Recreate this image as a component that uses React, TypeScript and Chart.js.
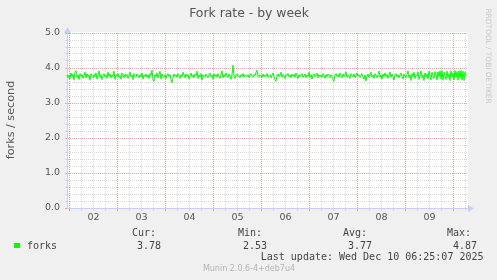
import React, { useEffect, useRef } from "react";
import { Chart, registerables } from "chart.js";

Chart.register(...registerables);

// hours measured from Dec 02 00:00
const dayLabels = ["02", "03", "04", "05", "06", "07", "08", "09"];
const startHour = -1.25;
const stepHours = 0.5;
const forks = [
  3.81, 3.72, 3.80, 3.68, 3.86, 3.75, 3.83, 3.65, 3.88, 3.92,
  3.73, 3.80, 3.67, 3.84, 3.76, 3.81, 3.70, 3.78, 3.89, 3.72,
  3.83, 3.75, 3.80, 3.65, 3.84, 3.76, 3.72, 3.81, 3.75, 3.86,
  3.68, 3.80, 3.92, 3.73, 3.81, 3.67, 3.78, 3.84, 3.75, 3.80,
  3.70, 3.88, 3.76, 3.83, 3.72, 3.80, 3.75, 3.91, 3.67, 3.81,
  3.76, 3.84, 3.73, 3.78, 3.68, 3.86, 3.80, 3.72, 3.83, 3.76,
  3.81, 3.70, 3.78, 3.88, 3.75, 3.80, 3.67, 3.84, 3.76, 3.73,
  3.83, 3.78, 3.72, 3.81, 3.75, 3.86, 3.68, 3.80, 3.76, 3.83,
  3.73, 3.80, 3.70, 3.84, 3.78, 3.94, 3.66, 3.62, 3.81, 3.75,
  3.86, 3.72, 3.80, 3.91, 3.68, 3.83, 3.76, 3.73, 3.81, 3.70,
  3.78, 3.84, 3.75, 3.81, 3.67, 3.58, 3.72, 3.83, 3.76, 3.80,
  3.73, 3.84, 3.78, 3.70, 3.81, 3.75, 3.88, 3.80, 3.72, 3.83,
  3.76, 3.81, 3.68, 3.78, 3.86, 3.75, 3.80, 3.72, 3.83, 3.78,
  3.91, 3.70, 3.80, 3.75, 3.84, 3.65, 3.81, 3.76, 3.73, 3.83,
  3.78, 3.72, 3.81, 3.86, 3.75, 3.80, 3.68, 3.83, 3.76, 3.81,
  3.73, 3.84, 3.78, 3.70, 3.80, 3.92, 3.72, 3.81, 3.75, 3.86,
  3.78, 3.72, 3.83, 3.76, 3.68, 3.81, 4.08, 3.75, 3.70, 3.80,
  3.83, 3.75, 3.78, 3.72, 3.81, 3.76, 3.84, 3.73, 3.80, 3.78,
  3.75, 3.81, 3.72, 3.80, 3.84, 3.76, 3.73, 3.81, 3.78, 3.88,
  3.94, 3.76, 3.73, 3.81, 3.78, 3.72, 3.83, 3.75, 3.80, 3.76,
  3.84, 3.73, 3.78, 3.81, 3.72, 3.80, 3.86, 3.75, 3.67, 3.62,
  3.78, 3.83, 3.75, 3.80, 3.88, 3.73, 3.81, 3.76, 3.70, 3.81,
  3.78, 3.84, 3.75, 3.80, 3.72, 3.83, 3.76, 3.81, 3.73, 3.86,
  3.78, 3.70, 3.81, 3.75, 3.80, 3.84, 3.73, 3.78, 3.83, 3.72,
  3.80, 3.76, 3.88, 3.73, 3.81, 3.68, 3.78, 3.83, 3.75, 3.80,
  3.86, 3.72, 3.81, 3.76, 3.80, 3.73, 3.84, 3.78, 3.70, 3.81,
  3.75, 3.83, 3.78, 3.72, 3.81, 3.76, 3.67, 3.62, 3.80, 3.84,
  3.76, 3.81, 3.73, 3.86, 3.78, 3.72, 3.83, 3.75, 3.80, 3.89,
  3.73, 3.81, 3.76, 3.70, 3.84, 3.78, 3.75, 3.83, 3.72, 3.80,
  3.86, 3.76, 3.81, 3.73, 3.78, 3.84, 3.75, 3.68, 3.80, 3.63,
  3.76, 3.83, 3.73, 3.81, 3.88, 3.75, 3.80, 3.70, 3.84, 3.78,
  3.72, 3.81, 3.91, 3.73, 3.80, 3.68, 3.83, 3.76, 3.86, 3.75,
  3.81, 3.70, 3.78, 3.89, 3.73, 3.83, 3.76, 3.65, 3.80, 3.84,
  3.75, 3.81, 3.72, 3.80, 3.86, 3.76, 3.68, 3.83, 3.78, 3.73,
  3.81, 3.92, 3.72, 3.80, 3.64, 3.84, 3.75, 3.88, 3.70, 3.81,
  3.78, 3.89, 3.67, 3.81, 3.92, 3.72, 3.80, 3.64, 3.86, 3.75,
  3.83, 3.68, 3.91, 3.76, 3.66, 3.88, 3.78, 3.70, 3.90, 3.80,
  3.66, 3.89, 3.75, 3.92, 3.68, 3.93, 3.65, 3.88, 3.78, 3.67,
  3.91, 3.72, 3.84, 3.64, 3.92, 3.75, 3.86, 3.66, 3.93, 3.73,
  3.90, 3.65, 3.92, 3.70, 3.93, 3.66, 3.91, 3.64, 3.88, 3.78,
];
const xMin = -1.25;
const xMax = 198.75;
const yMin = 0;
const yMax = 5;
const yStep = 0.2;
const xStep = 6;

const titleText = "Fork rate - by week";
const yTitle = "forks / second";
const seriesName = "forks";
const statLabels = ["Cur:", "Min:", "Avg:", "Max:"];
const statValues = ["3.78", "2.53", "3.77", "4.87"];
const lastUpdate = "Last update: Wed Dec 10 06:25:07 2025";
const footer = "Munin 2.0.6-4+deb7u4";
const watermark = "RRDTOOL / TOBI OETIKER";

const GRID_MINOR = "#d8d8d8";
const GRID_MAJOR = "#f4a0a0";
const AXIS = "#c8cef8";
const TEXT = "#555555";

const isInt = (v: number) => Math.abs(v - Math.round(v)) < 1e-6;

const decor = {
  id: "muninDecor",
  beforeDraw(chart: any) {
    const { ctx, chartArea: a, width, height } = chart;
    ctx.save();
    ctx.fillStyle = "#f0f0f0";
    ctx.fillRect(0, 0, width, height);
    ctx.fillStyle = "#ffffff";
    ctx.fillRect(a.left, a.top - 1, a.right - a.left + 1, a.bottom - a.top + 1);
    ctx.restore();
  },
  afterDraw(chart: any) {
    const { ctx, chartArea: a } = chart;
    ctx.save();
    // arrows
    ctx.fillStyle = AXIS;
    ctx.beginPath();
    ctx.moveTo(a.left - 3, a.top);
    ctx.lineTo(a.left + 4, a.top);
    ctx.lineTo(a.left + 0.5, a.top - 6);
    ctx.closePath();
    ctx.fill();
    ctx.beginPath();
    ctx.moveTo(a.right + 1, a.bottom - 3);
    ctx.lineTo(a.right + 1, a.bottom + 4);
    ctx.lineTo(a.right + 7, a.bottom + 0.5);
    ctx.closePath();
    ctx.fill();

    // title
    ctx.fillStyle = TEXT;
    ctx.textAlign = "center";
    ctx.textBaseline = "middle";
    ctx.font = "12.4px 'DejaVu Sans'";
    ctx.fillText(titleText, 249, 14);

    // y title
    ctx.save();
    ctx.translate(11, 120);
    ctx.rotate(-Math.PI / 2);
    ctx.font = "11.2px 'DejaVu Sans'";
    ctx.fillText(yTitle, 0, 0);
    ctx.restore();

    // watermark
    ctx.save();
    ctx.translate(488, 56);
    ctx.rotate(Math.PI / 2);
    ctx.fillStyle = "#c8c8c8";
    ctx.font = "7.4px 'DejaVu Sans'";
    ctx.fillText(watermark, 0, 0);
    ctx.restore();

    // legend
    const datasetColor = chart.data.datasets[0].borderColor;
    ctx.fillStyle = datasetColor;
    ctx.fillRect(14, 243, 6, 5);
    ctx.fillStyle = "#444444";
    ctx.font = "10px 'DejaVu Sans Mono'";
    ctx.textAlign = "left";
    ctx.fillText(seriesName, 27, 246);
    const labelX = [132, 238, 343, 447];
    const valueRight = [161, 267, 372, 477];
    statLabels.forEach((l, i) => {
      ctx.textAlign = "left";
      ctx.fillText(l, labelX[i], 233.5);
      ctx.textAlign = "right";
      ctx.fillText(statValues[i], valueRight[i], 246);
    });
    ctx.textAlign = "right";
    ctx.fillText(lastUpdate, 483.5, 257.5);

    ctx.textAlign = "center";
    ctx.fillStyle = "#b4b4b4";
    ctx.font = "8px 'DejaVu Sans'";
    ctx.fillText(footer, 249, 269);
    ctx.restore();
  },
};

export default function App() {
  const ref = useRef<HTMLCanvasElement | null>(null);
  useEffect(() => {
    if (!ref.current) return;
    const points = forks.map((v, i) => ({ x: startHour + i * stepHours, y: v }));
    const chart = new Chart(ref.current, {
      type: "line",
      data: {
        datasets: [
          {
            label: seriesName,
            data: points,
            borderColor: "#00ff00",
            borderWidth: 1,
            pointRadius: 0,
            tension: 0,
            fill: false,
          },
        ],
      },
      options: {
        animation: false,
        responsive: false,
        devicePixelRatio: 1,
        layout: { padding: { left: 0, top: 33, right: 30, bottom: 0 }, autoPadding: false },
        plugins: { legend: { display: false }, tooltip: { enabled: false }, title: { display: false } },
        scales: {
          x: {
            type: "linear",
            min: xMin,
            max: xMax,
            offset: false,
            afterBuildTicks: (s: any) => {
              const t = [];
              for (let h = 0; h <= xMax; h += xStep) t.push({ value: h });
              s.ticks = t;
            },
            afterFit: (s: any) => {
              s.height = 72;
            },
            ticks: {
              autoSkip: false,
              maxRotation: 0,
              minRotation: 0,
              padding: 1,
              color: TEXT,
              font: { family: "'DejaVu Sans'", size: 9.5 },
              callback: (v: any) => {
                const n = Number(v);
                return n % 24 === 12 ? dayLabels[(n - 12) / 24] : "";
              },
            },
            grid: {
              color: (c: any) => (c.tick && c.tick.value % 24 === 0 ? GRID_MAJOR : GRID_MINOR),
              tickColor: (c: any) => (c.tick && c.tick.value % 24 === 0 ? GRID_MAJOR : GRID_MINOR),
              lineWidth: 1,
              tickLength: 3,
            },
            border: { display: true, color: AXIS, width: 1, dash: [1, 1] },
          },
          y: {
            type: "linear",
            min: yMin,
            max: yMax,
            afterFit: (s: any) => {
              s.width = 67;
            },
            ticks: {
              stepSize: yStep,
              autoSkip: false,
              padding: 5,
              color: TEXT,
              font: { family: "'DejaVu Sans'", size: 9.5 },
              callback: (v: any) => (isInt(Number(v)) ? Number(v).toFixed(1) : ""),
            },
            grid: {
              color: (c: any) => (c.tick && isInt(c.tick.value) ? GRID_MAJOR : GRID_MINOR),
              tickColor: (c: any) => (c.tick && isInt(c.tick.value) ? GRID_MAJOR : GRID_MINOR),
              lineWidth: 1,
              tickLength: 2,
            },
            border: { display: true, color: AXIS, width: 1, dash: [1, 1] },
          },
        },
      },
      plugins: [decor],
    } as any);
    return () => chart.destroy();
  }, []);
  return (
    <div style={{ position: "fixed", left: 0, top: 0, width: 497, height: 280, background: "#f0f0f0" }}>
      <canvas ref={ref} width={497} height={280} style={{ width: 497, height: 280, display: "block" }} />
    </div>
  );
}
